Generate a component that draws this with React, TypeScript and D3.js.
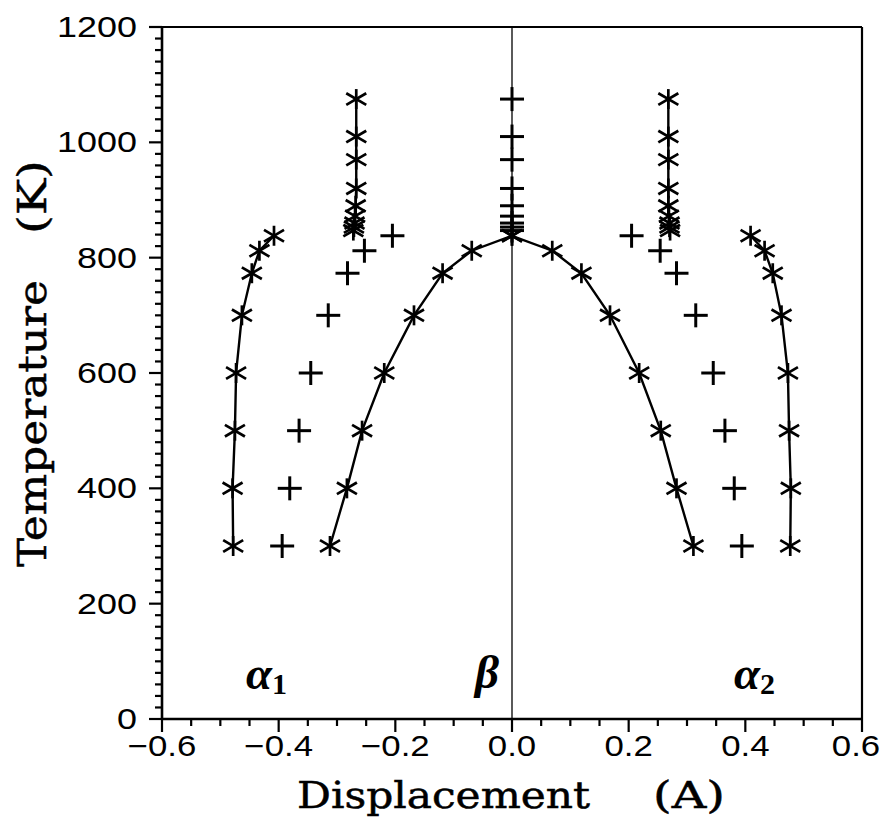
import React from "react";
import * as d3 from "d3";

// ---- Data (Displacement in Å, Temperature in K) ----
const lowTemps = [300, 400, 500, 600, 700, 773, 812, 838];
const alpha1Outer = [-0.478, -0.479, -0.475, -0.473, -0.463, -0.446, -0.433, -0.408];
const alpha2Outer = [0.477, 0.478, 0.475, 0.473, 0.462, 0.447, 0.433, 0.409];
const alpha1Plus = [-0.394, -0.381, -0.365, -0.345, -0.315, -0.282, -0.253, -0.205];
const alpha2Plus = [0.394, 0.381, 0.365, 0.345, 0.315, 0.282, 0.254, 0.205];
const betaLeft = [-0.312, -0.283, -0.257, -0.219, -0.168, -0.119, -0.069, 0.0];
const betaRight = [0.311, 0.282, 0.255, 0.218, 0.168, 0.119, 0.069, 0.0];

const highTemps = [1075, 1010, 970, 920, 890, 872, 860, 853, 847];
const highLeft = [-0.267, -0.267, -0.267, -0.267, -0.268, -0.269, -0.27, -0.271, -0.272];
const highRight = [0.268, 0.268, 0.268, 0.268, 0.268, 0.269, 0.27, 0.27, 0.271];
const highCenter = [0, 0, 0, 0, 0, 0, 0, 0, 0];

const xMajorTicks = [-0.6, -0.4, -0.2, 0.0, 0.2, 0.4, 0.6];
const xTickLabels = ["\u22120.6", "\u22120.4", "\u22120.2", "0.0", "0.2", "0.4", "0.6"];
const yMajorTicks = [0, 200, 400, 600, 800, 1000, 1200];
const yTickLabels = ["0", "200", "400", "600", "800", "1000", "1200"];

const W = 883;
const H = 817;
const left = 162;
const right = 862;
const top = 27;
const bottom = 719;

const x = d3.scaleLinear().domain([-0.6, 0.6]).range([left, right]);
const y = d3.scaleLinear().domain([0, 1200]).range([bottom, top]);

const zip = (xs: number[], ts: number[]) => xs.map((v, i) => [v, ts[i]] as [number, number]);

const line = d3
  .line<[number, number]>()
  .x((d) => x(d[0]))
  .y((d) => y(d[1]));

function Asterisk({ cx, cy }: { cx: number; cy: number }) {
  const r = 10;
  const dx = 10;
  const dy = 5.8;
  return (
    <g stroke="#000" strokeWidth={2.7} strokeLinecap="butt">
      <line x1={cx} y1={cy - r} x2={cx} y2={cy + r} />
      <line x1={cx - dx} y1={cy - dy} x2={cx + dx} y2={cy + dy} />
      <line x1={cx - dx} y1={cy + dy} x2={cx + dx} y2={cy - dy} />
    </g>
  );
}

function Plus({ cx, cy }: { cx: number; cy: number }) {
  const r = 12;
  return (
    <g stroke="#000" strokeWidth={3}>
      <line x1={cx - r} y1={cy} x2={cx + r} y2={cy} />
      <line x1={cx} y1={cy - r} x2={cx} y2={cy + r} />
    </g>
  );
}

export default function App() {
  const xMinor = d3.range(-0.6, 0.6001, 0.05);
  const yMinor = d3.range(0, 1200.1, 20);

  const lineSeries = [
    zip(alpha1Outer, lowTemps),
    zip(alpha2Outer, lowTemps),
    zip(betaLeft, lowTemps),
    zip(betaRight, lowTemps),
    zip(highLeft, highTemps),
    zip(highRight, highTemps),
  ];
  const starSeries = lineSeries;
  const plusSeries = [
    zip(alpha1Plus, lowTemps),
    zip(alpha2Plus, lowTemps),
    zip(highCenter, highTemps),
  ];

  const tickFont = "'Liberation Sans', Arial, sans-serif";
  const titleFont = "'DejaVu Serif', serif";
  const greekFont = "'Liberation Serif', 'Times New Roman', serif";

  return (
    <svg
      width={W}
      height={H}
      style={{ position: "absolute", left: 0, top: 0, background: "#fff" }}
    >
      <rect x={0} y={0} width={W} height={H} fill="#fff" />

      {/* zero line */}
      <line x1={x(0)} x2={x(0)} y1={y(0)} y2={y(1200)} stroke="#000" strokeWidth={1.3} />

      {/* frame */}
      <line x1={left} x2={right} y1={top} y2={top} stroke="#000" strokeWidth={2.2} />
      <line x1={right} x2={right} y1={top} y2={bottom} stroke="#000" strokeWidth={2.2} />
      <line x1={left} x2={left} y1={top - 1} y2={bottom + 1} stroke="#000" strokeWidth={2.6} />
      <line x1={left - 1} x2={right + 1} y1={bottom} y2={bottom} stroke="#000" strokeWidth={2.6} />

      {/* y ticks */}
      {yMinor.map((t, i) => {
        const major = Math.abs(t % 200) < 1e-6;
        return (
          <line
            key={"ym" + i}
            x1={left - (major ? 13 : 7)}
            x2={left}
            y1={y(t)}
            y2={y(t)}
            stroke="#000"
            strokeWidth={2.2}
          />
        );
      })}
      {/* x ticks */}
      {xMinor.map((t, i) => {
        const major = i % 4 === 0;
        return (
          <line
            key={"xm" + i}
            x1={x(t)}
            x2={x(t)}
            y1={bottom}
            y2={bottom + (major ? 13 : 7)}
            stroke="#000"
            strokeWidth={2.2}
          />
        );
      })}

      {/* y tick labels */}
      {yMajorTicks.map((t, i) => (
        <text
          key={"yl" + i}
          transform={`translate(${left - 25},${y(t) + 10}) scale(1.24,1)`}
          textAnchor="end"
          fontFamily={tickFont}
          fontSize={29}
          fill="#000"
        >
          {yTickLabels[i]}
        </text>
      ))}
      {/* x tick labels */}
      {xMajorTicks.map((t, i) => (
        <text
          key={"xl" + i}
          transform={`translate(${Math.min(x(t), W - 27)},${bottom + 37}) scale(1.2,1)`}
          textAnchor="middle"
          fontFamily={tickFont}
          fontSize={29}
          fill="#000"
        >
          {xTickLabels[i]}
        </text>
      ))}

      {/* axis titles */}
      <text
        x={297}
        y={808}
        textLength={293}
        lengthAdjust="spacingAndGlyphs"
        fontFamily={titleFont}
        fontSize={38}
        fill="#000"
        stroke="#000"
        strokeWidth={0.5}
      >
        Displacement
      </text>
      <text
        x={653}
        y={808}
        textLength={72}
        lengthAdjust="spacingAndGlyphs"
        fontFamily={titleFont}
        fontSize={38}
        fill="#000"
        stroke="#000"
        strokeWidth={0.5}
      >
        (A)
      </text>
      <g transform="translate(46,0) rotate(-90)">
        <text
          x={-567}
          y={0}
          textLength={287}
          lengthAdjust="spacingAndGlyphs"
          fontFamily={titleFont}
          fontSize={40}
          fill="#000"
          stroke="#000"
          strokeWidth={0.5}
        >
          Temperature
        </text>
        <text
          x={-234}
          y={0}
          textLength={74}
          lengthAdjust="spacingAndGlyphs"
          fontFamily={titleFont}
          fontSize={40}
          fill="#000"
          stroke="#000"
          strokeWidth={0.5}
        >
          (K)
        </text>
      </g>

      {/* lines */}
      {lineSeries.map((s, i) => (
        <path key={"ln" + i} d={line(s) || ""} fill="none" stroke="#000" strokeWidth={2.4} />
      ))}

      {/* markers */}
      {starSeries.map((s, i) =>
        s.map((d, j) => <Asterisk key={`st${i}-${j}`} cx={x(d[0])} cy={y(d[1])} />)
      )}
      {plusSeries.map((s, i) =>
        s.map((d, j) => <Plus key={`pl${i}-${j}`} cx={x(d[0])} cy={y(d[1])} />)
      )}

      {/* phase labels */}
      <text x={246} y={689} fontFamily={greekFont} fontStyle="italic" fontWeight="bold" fontSize={47} fill="#000">
        α
        <tspan fontSize={30} dy={5} fontStyle="normal">1</tspan>
      </text>
      <text x={475} y={688} fontFamily={greekFont} fontStyle="italic" fontWeight="bold" fontSize={47} fill="#000">
        β
      </text>
      <text x={734} y={689} fontFamily={greekFont} fontStyle="italic" fontWeight="bold" fontSize={47} fill="#000">
        α
        <tspan fontSize={30} dy={5} fontStyle="normal">2</tspan>
      </text>
    </svg>
  );
}
